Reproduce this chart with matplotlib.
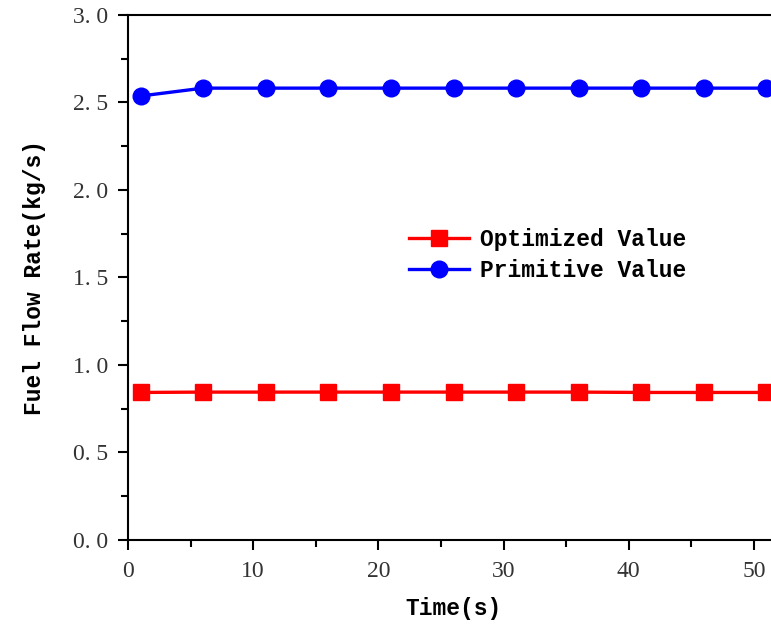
import matplotlib
matplotlib.use("Agg")
import matplotlib.pyplot as plt
from matplotlib.ticker import MultipleLocator

# data
time_s = [1, 6, 11, 16, 21, 26, 31, 36, 41, 46, 51]
optimized = [0.843, 0.845, 0.845, 0.845, 0.845, 0.845, 0.845, 0.845, 0.843, 0.843, 0.843]
primitive = [2.537, 2.582, 2.582, 2.582, 2.582, 2.582, 2.582, 2.582, 2.582, 2.582, 2.582]

mono = "Liberation Mono"
serif = "Liberation Serif"

fig = plt.figure(figsize=(7.71, 6.27), dpi=100)
# axes runs a little past the right edge of the figure, like the original
ax = fig.add_axes([0.166, 0.1388, 0.8444, 0.8373])

ax.plot(time_s, optimized, color="red", lw=2.4, marker="s", ms=11, label="Optimized Value")
ax.plot(time_s, primitive, color="blue", lw=2.4, marker="o", ms=12, label="Primitive Value")

ax.set_xlim(0, 52)
ax.set_ylim(0, 3.0)
ax.xaxis.set_major_locator(MultipleLocator(10))
ax.xaxis.set_minor_locator(MultipleLocator(5))
ax.yaxis.set_minor_locator(MultipleLocator(0.25))
ax.set_yticks([0, 0.5, 1.0, 1.5, 2.0, 2.5, 3.0])
ax.set_yticklabels(["0. 0", "0. 5", "1. 0", "1. 5", "2. 0", "2. 5", "3. 0"])

ax.tick_params(which="both", direction="out", width=1.5, labelsize=17, colors="black")
ax.tick_params(which="major", length=7)
ax.tick_params(which="minor", length=5)
ax.tick_params(axis="x", pad=8)
ax.tick_params(axis="y", pad=7)
for lab in ax.get_xticklabels() + ax.get_yticklabels():
    lab.set_family(serif)
    lab.set_color("#333333")
for s in ax.spines.values():
    s.set_linewidth(1.5)

ax.set_xlabel("Time(s)", fontsize=16.5, family=mono, fontweight="bold", labelpad=11)
ax.set_ylabel("Fuel Flow Rate(kg/s)", fontsize=16.5, family=mono, fontweight="bold", labelpad=20)

ax.legend(loc="center left", bbox_to_anchor=(0.40, 0.543), frameon=False,
          prop={"family": mono, "size": 16.5, "weight": "bold"},
          handlelength=2.6, handletextpad=0.5, labelspacing=0.35)

fig.savefig("out.png", dpi=100)
